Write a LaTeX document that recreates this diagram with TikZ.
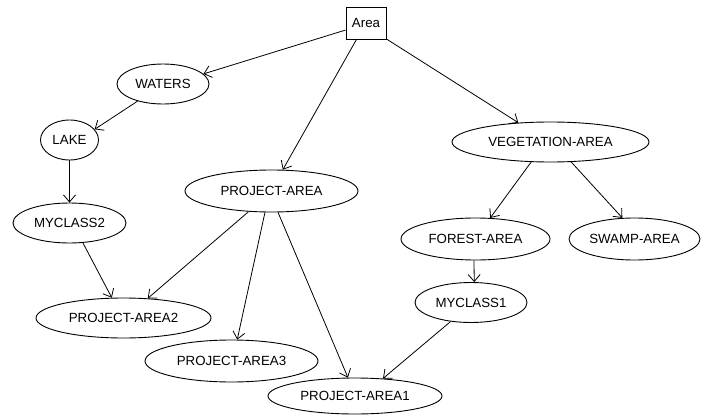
\documentclass[tikz,border=0pt]{standalone}
\usepackage{fontspec}
\setmainfont{Liberation Sans}
\usetikzlibrary{shapes.geometric,arrows.meta}
\begin{document}
\begin{tikzpicture}[x=1pt,y=-1pt,
  every node/.style={font=\fontsize{13.3}{15}\selectfont, inner sep=0pt},
  cls/.style={draw, line width=0.9pt, ellipse},
  rootbox/.style={draw, line width=1pt, rectangle, minimum width=40pt, minimum height=32pt},
  link/.style={line width=0.8pt, -{Straight Barb[length=7pt,width=12pt,line width=0.8pt]}}]
\useasboundingbox (0,0) rectangle (702,415);
\fill[white] (0,0) rectangle (702,415);

\node[rootbox] (Area) at (366,23) {Area};
\node[cls, minimum width=92pt, minimum height=40pt] (WATERS) at (163,84) {WATERS};
\node[cls, minimum width=58pt, minimum height=40pt] (LAKE) at (69.5,140) {LAKE};
\node[cls, minimum width=113pt, minimum height=40pt] (MYCLASS2) at (69.5,223) {MYCLASS2};
\node[cls, minimum width=173pt, minimum height=42pt] (PA) at (271.5,191) {PROJECT-AREA};
\node[cls, minimum width=175pt, minimum height=40pt] (PA2) at (123.5,318) {PROJECT-AREA2};
\node[cls, minimum width=173pt, minimum height=42pt] (PA3) at (231.5,361) {PROJECT-AREA3};
\node[cls, minimum width=174pt, minimum height=36pt] (PA1) at (355,396) {PROJECT-AREA1};
\node[cls, minimum width=197pt, minimum height=40pt] (VEG) at (550.5,142) {VEGETATION-AREA};
\node[cls, minimum width=149pt, minimum height=42pt] (FOREST) at (475.5,239) {FOREST-AREA};
\node[cls, minimum width=131pt, minimum height=42pt] (SWAMP) at (634.5,239) {SWAMP-AREA};
\node[cls, minimum width=112pt, minimum height=40pt] (MYCLASS1) at (471,302.5) {MYCLASS1};

\draw[link] (Area.199) -- (WATERS.14);
\draw[link] (Area.240) -- (PA.62);
\draw[link] (Area.322) -- (VEG.149);
\draw[link] (WATERS.214) -- (LAKE.23);
\draw[link] (LAKE.south) -- (MYCLASS2.north);
\draw[link] (MYCLASS2.304) -- (PA2.120);
\draw[link] (PA.222) -- (PA2.39);
\draw[link] (PA.253) -- (PA3.75);
\draw[link] (PA.287) -- (PA1.111);
\draw[link] (VEG.226) -- (FOREST.55);
\draw[link] (VEG.316) -- (SWAMP.120);
\draw[link] (FOREST.266) -- (MYCLASS1.81);
\draw[link] (MYCLASS1.223) -- (PA1.32);
\end{tikzpicture}
\end{document}
